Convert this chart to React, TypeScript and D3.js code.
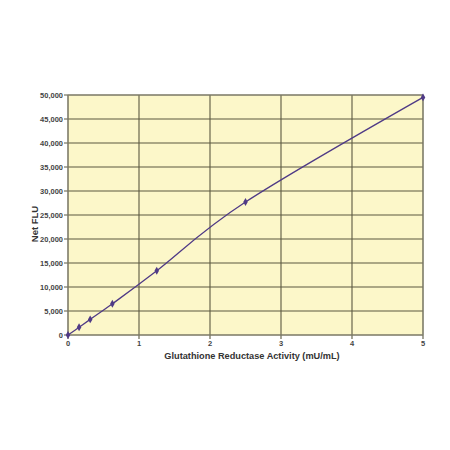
import React from "react";
import * as d3 from "d3";

// standard curve readings
const activity = [0, 0.156, 0.3125, 0.625, 1.25, 2.5, 5];
const netFlu = [0, 1600, 3250, 6500, 13400, 27700, 49500];
const xTicks = [0, 1, 2, 3, 4, 5];
const yTicks = [0, 5000, 10000, 15000, 20000, 25000, 30000, 35000, 40000, 45000, 50000];

const W = 450;
const H = 450;
const M = { left: 68, right: 27, top: 95, bottom: 115 };

const App = () => {
  const x = d3.scaleLinear().domain([0, 5]).range([M.left, W - M.right]);
  const y = d3.scaleLinear().domain([0, 50000]).range([H - M.bottom, M.top]);
  const fmt = d3.format(",d");

  const pts: [number, number][] = activity.map((a, i) => [a, netFlu[i]]);
  const line = d3
    .line<[number, number]>()
    .x((d) => x(d[0]))
    .y((d) => y(d[1]))
    .curve(d3.curveCardinal.tension(0));

  const marker = d3.symbol().type(d3.symbolDiamond).size(18)();
  const font = "'Liberation Sans', Arial, sans-serif";
  const grid = "#5a5840";

  return (
    <svg width={W} height={H} style={{ position: "absolute", left: 0, top: 0 }}>
      <rect x={0} y={0} width={W} height={H} fill="#ffffff" />
      <rect
        x={x(0)}
        y={y(50000)}
        width={x(5) - x(0)}
        height={y(0) - y(50000)}
        fill="#fcf7c9"
      />
      {yTicks.map((t) => (
        <g key={"y" + t}>
          <line x1={x(0) - 4} x2={x(5)} y1={y(t)} y2={y(t)} stroke={grid} strokeWidth={1.1} />
          <text
            x={x(0) - 5}
            y={y(t)}
            dy="0.35em"
            textAnchor="end"
            fontSize={7.5}
            fontWeight="bold"
            fill="#444"
            fontFamily={font}
          >
            {fmt(t)}
          </text>
        </g>
      ))}
      {xTicks.map((t) => (
        <g key={"x" + t}>
          <line x1={x(t)} x2={x(t)} y1={y(50000)} y2={y(0) + 4} stroke={grid} strokeWidth={1.1} />
          <text
            x={x(t)}
            y={y(0) + 10.5}
            textAnchor="middle"
            fontSize={7.5}
            fontWeight="bold"
            fill="#444"
            fontFamily={font}
          >
            {t}
          </text>
        </g>
      ))}
      <rect
        x={x(0)}
        y={y(50000)}
        width={x(5) - x(0)}
        height={y(0) - y(50000)}
        fill="none"
        stroke="#8a8878"
        strokeWidth={1}
      />
      <path d={line(pts) || ""} fill="none" stroke="#4f3a86" strokeWidth={1.3} />
      {pts.map((p, i) => (
        <path
          key={"p" + i}
          d={marker || ""}
          transform={`translate(${x(p[0])},${y(p[1])})`}
          fill="#4f3a86"
        />
      ))}
      <text
        x={252}
        y={359}
        textAnchor="middle"
        fontSize={9.2}
        fontWeight="bold"
        fill="#333"
        fontFamily={font}
      >
        Glutathione Reductase Activity (mU/mL)
      </text>
      <text
        transform={`translate(38,${(y(0) + y(50000)) / 2 + 9}) rotate(-90)`}
        textAnchor="middle"
        fontSize={9.5}
        fontWeight="bold"
        fill="#333"
        fontFamily={font}
      >
        Net FLU
      </text>
    </svg>
  );
};

export default App;
